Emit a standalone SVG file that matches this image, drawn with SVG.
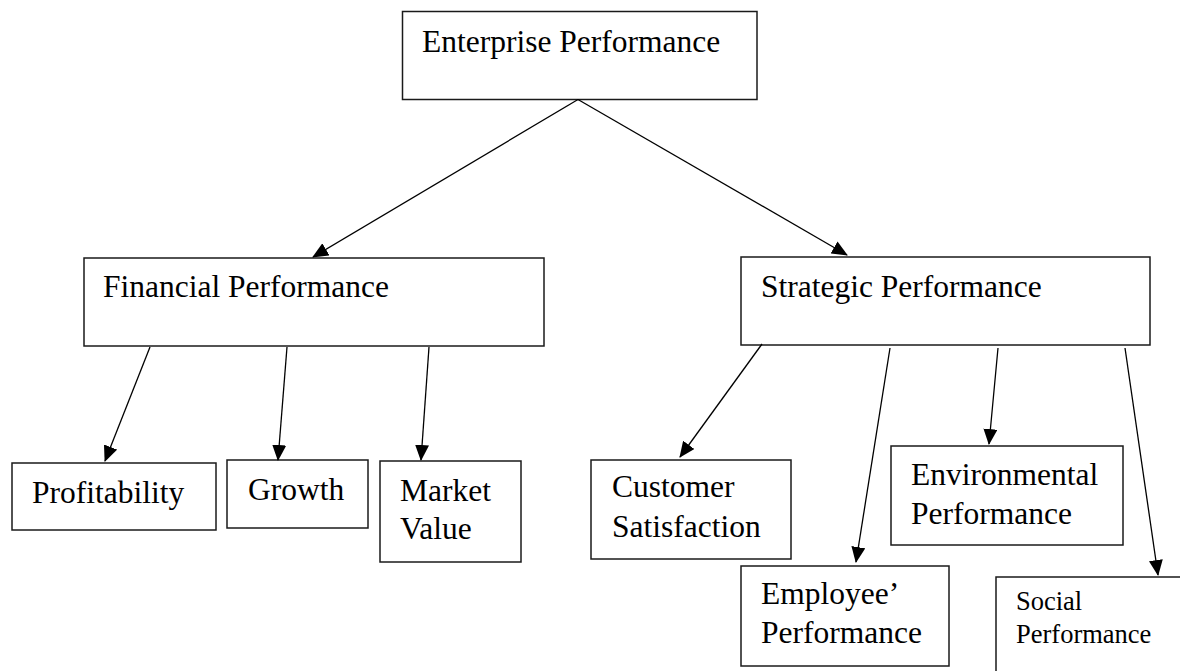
<svg xmlns="http://www.w3.org/2000/svg" width="1180" height="671" viewBox="0 0 1180 671">
<defs>
<marker id="arr" markerUnits="userSpaceOnUse" markerWidth="16" markerHeight="14" refX="15" refY="7" orient="auto">
<path d="M0,0 L16,7 L0,14 z" fill="#000"/>
</marker>
<style>
.box{fill:#fff;stroke:#1a1a1a;stroke-width:1.5}
.t{font-family:"Liberation Serif","Times New Roman",serif;font-size:31.5px;fill:#000}
.s{font-size:26.5px}
.c line{stroke:#000;stroke-width:1.3;marker-end:url(#arr)}
</style>
</defs>
<rect width="1180" height="671" fill="#fff"/>
<g id="enterprise"><rect class="box" x="402.5" y="11.5" width="354.5" height="88"/><text class="t" x="422" y="52">Enterprise Performance</text></g>
<g id="financial"><rect class="box" x="84" y="258" width="460" height="88"/><text class="t" x="103" y="297">Financial Performance</text></g>
<g id="strategic"><rect class="box" x="741" y="257" width="409" height="88"/><text class="t" x="761" y="297">Strategic Performance</text></g>
<g id="profitability"><rect class="box" x="12" y="463" width="204" height="67"/><text class="t" x="32" y="503">Profitability</text></g>
<g id="growth"><rect class="box" x="227" y="460" width="141" height="68"/><text class="t" x="248" y="500">Growth</text></g>
<g id="market"><rect class="box" x="380" y="461" width="141" height="101"/><text class="t" x="400" y="501">Market</text><text class="t" x="400" y="539">Value</text></g>
<g id="customer"><rect class="box" x="591" y="460" width="200" height="99"/><text class="t" x="612" y="497">Customer</text><text class="t" x="612" y="537">Satisfaction</text></g>
<g id="environmental"><rect class="box" x="891" y="446" width="232" height="99"/><text class="t" x="911" y="485">Environmental</text><text class="t" x="911" y="524">Performance</text></g>
<g id="employee"><rect class="box" x="741" y="566" width="208" height="100"/><text class="t" x="761" y="604">Employee’</text><text class="t" x="761" y="643">Performance</text></g>
<g id="social"><rect class="box" x="996" y="577" width="200" height="110"/><text class="t s" x="1016" y="610">Social</text><text class="t s" x="1016" y="643">Performance</text></g>
<g id="connectors" class="c">
<line x1="578" y1="99.5" x2="313" y2="257"/>
<line x1="578" y1="99.5" x2="847" y2="255"/>
<line x1="150" y1="347" x2="105" y2="461"/>
<line x1="287" y1="347" x2="278" y2="460"/>
<line x1="429" y1="347" x2="421" y2="460"/>
<line x1="762" y1="344" x2="680" y2="457"/>
<line x1="890" y1="348" x2="856" y2="562"/>
<line x1="998" y1="348" x2="989" y2="444"/>
<line x1="1125" y1="348" x2="1158" y2="575"/>
</g>
</svg>
